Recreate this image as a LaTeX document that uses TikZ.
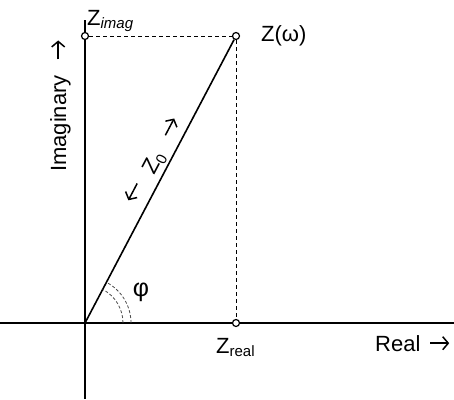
\documentclass[tikz,border=0pt]{standalone}
\usepackage{fontspec}
\setmainfont{Liberation Sans}
\usetikzlibrary{arrows.meta}
\newcommand{\myrarr}{\tikz[x=1pt,y=1pt,baseline=0pt]\draw[line width=1.5pt,-{Straight Barb[length=5.5pt,width=13pt,line width=1.5pt]}] (0,7.8) -- (19,7.8);}
\newcommand{\mylarr}{\tikz[x=1pt,y=1pt,baseline=0pt]\draw[line width=1.5pt,-{Straight Barb[length=5.5pt,width=13pt,line width=1.5pt]}] (19,7.8) -- (0,7.8);}
\begin{document}
\begin{tikzpicture}[x=1pt,y=-1pt,
  axis/.style={line width=1.6pt},
  guide/.style={line width=0.9pt,dash pattern=on 4pt off 3pt},
  arcline/.style={line width=0.8pt,gray!60!black,dash pattern=on 3pt off 2pt},
  dot/.style={circle,draw,fill=white,line width=1.2pt,inner sep=0pt,minimum size=7pt},
  lbl/.style={font=\fontsize{22}{26}\selectfont,inner sep=0pt}]
\useasboundingbox (0,0) rectangle (454,399);
% coordinates
\coordinate (O) at (85,323);
\coordinate (ytop) at (85,20);
\coordinate (ybot) at (85,399);
\coordinate (xl) at (0,323);
\coordinate (xr) at (454,323);
% guides
\node[dot] (zi) at (85,36) {};
\node[dot] (zr) at (236,323) {};
\node[dot] (z) at (236,36) {};
\draw[guide] (zi) -- (z);
\draw[guide] (z) -- (zr);
% axes
\draw[axis] (xl) -- (zr);
\draw[axis] (zr) -- (xr);
\draw[axis] (ytop) -- (zi);
\draw[axis] (zi) -- (ybot);
% main vector
\draw[axis] (O) -- (z);
% angle arcs
\draw[arcline] ([xshift=38pt]O) arc[start angle=0,end angle=62.25,radius=38pt];
\draw[arcline] ([xshift=46pt]O) arc[start angle=0,end angle=62.25,radius=46pt];
% labels
\node[lbl,anchor=base west] (lzi) at (87,25) {Z\textsubscript{\fontsize{15}{17}\selectfont\itshape imag}};
\node[lbl,anchor=base west] (lz) at (261,41) {Z(ω)};
\node[lbl,anchor=base west] (lzr) at (216,353) {Z\textsubscript{\fontsize{15}{17}\selectfont real}};
\node[lbl,anchor=base west] (lre) at (375,351) {Real\hspace{9pt}\myrarr};
\node[lbl,rotate=90,anchor=base west] (lim) at (66,172) {Imaginary\hspace{15pt}\myrarr};
\node[lbl,font=\fontsize{25}{28}\selectfont] (phi) at (141,292) {φ};
\node[lbl,rotate=62.25] (lz0) at (155,163) {Z\textsubscript{\fontsize{15}{17}\selectfont 0}};
\node[lbl,rotate=62.25] (a1) at (133,192) {\mylarr};
\node[lbl,rotate=62.25] (a2) at (170,127) {\myrarr};
\end{tikzpicture}
\end{document}
